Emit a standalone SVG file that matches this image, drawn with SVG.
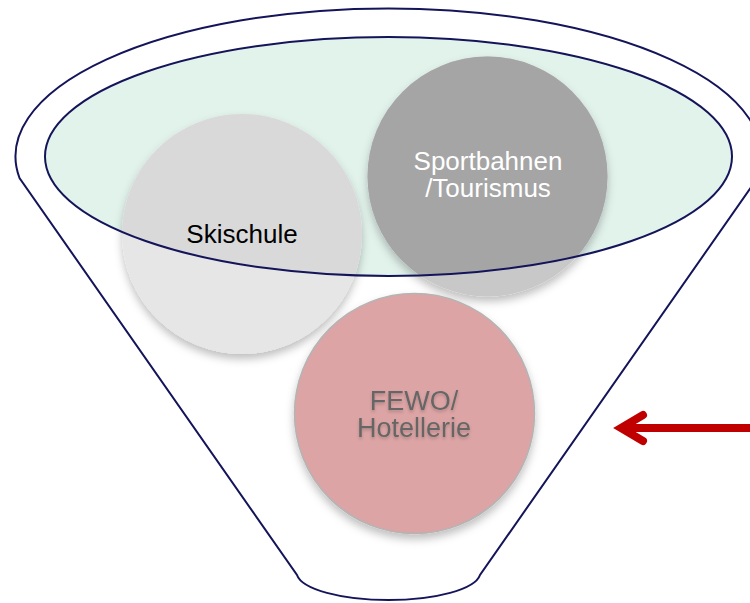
<svg xmlns="http://www.w3.org/2000/svg" width="750" height="603" viewBox="0 0 750 603">
<defs>
<style>
.outline{fill:none;stroke:#14145a;stroke-width:2}
.lbl{font-family:"Liberation Sans",Arial,sans-serif;font-size:26px;text-anchor:middle}
</style>
<filter id="sh" x="-20%" y="-20%" width="140%" height="150%">
<feDropShadow dx="0" dy="5" stdDeviation="4" flood-color="#000" flood-opacity="0.25"/>
</filter>
<filter id="tsh" x="-10%" y="-30%" width="120%" height="160%">
<feDropShadow dx="0" dy="2" stdDeviation="1.5" flood-color="#000" flood-opacity="0.2"/>
</filter>
<clipPath id="inner"><ellipse cx="388.5" cy="156.5" rx="343.5" ry="119.5"/></clipPath>
</defs>
<rect width="750" height="603" fill="#fff"/>
<g id="funnel">
<path class="outline" d="M19.5,178 A373,148 0 1 1 757.5,178 L480,575 A92,28 0 0 1 297,575 Z"/>
<ellipse cx="388.5" cy="156.5" rx="343.5" ry="119.5" fill="#e2f3ec"/>
</g>
<g id="skischule">
<circle cx="242" cy="234" r="120" fill="#e6e6e6" filter="url(#sh)"/>
<circle cx="242" cy="234" r="120" fill="#d9d9d9" clip-path="url(#inner)"/>
<text class="lbl" x="242" y="243" fill="#000">Skischule</text>
</g>
<g id="sportbahnen">
<circle cx="487.5" cy="176.5" r="120" fill="#c8c8c8" filter="url(#sh)"/>
<circle cx="487.5" cy="176.5" r="120" fill="#a5a5a5" clip-path="url(#inner)"/>
<text class="lbl" x="488" y="170" fill="#fff">Sportbahnen</text>
<text class="lbl" x="488" y="197" fill="#fff">/Tourismus</text>
</g>
<ellipse class="outline" cx="388.5" cy="156.5" rx="343.5" ry="119.5"/>
<g id="fewo">
<circle cx="414.5" cy="413.5" r="120" fill="#dca4a4" stroke="#b4b4b4" stroke-width="1.5" filter="url(#sh)"/>
<g filter="url(#tsh)">
<text class="lbl" x="414" y="410" fill="#666" style="font-size:27px">FEWO/</text>
<text class="lbl" x="414" y="437" fill="#666" style="font-size:27px">Hotellerie</text>
</g>
</g>
<g id="connectors">
<line x1="752" y1="428" x2="624" y2="428" stroke="#c00000" stroke-width="8"/>
<path d="M643,415 L621,428 L643,441" fill="none" stroke="#c00000" stroke-width="8" stroke-linecap="round" stroke-linejoin="miter"/>
</g>
</svg>
